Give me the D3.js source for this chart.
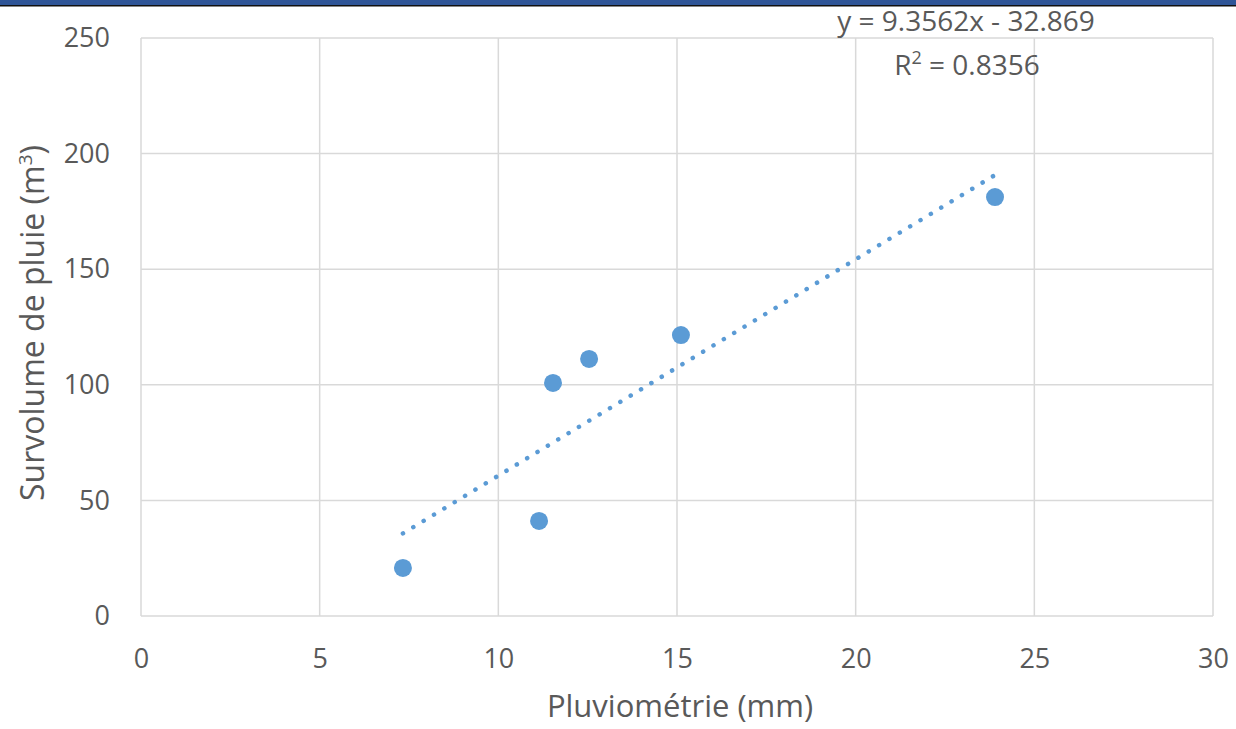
<!DOCTYPE html>
<html>
<head>
<meta charset="utf-8">
<script src="https://cdn.jsdelivr.net/npm/d3@7"></script>
<style>
  html, body { margin: 0; padding: 0; background: #ffffff; }
  svg { display: block; }
</style>
</head>
<body>
<svg id="chart" width="1236" height="729"></svg>
<script>
// Rainfall (mm) vs. rain surplus volume (m³)
const pluviometrie = [7.33, 11.14, 11.53, 12.54, 15.11, 23.9];
const survolume    = [20.8, 41.1, 100.8, 111.2, 121.5, 181.2];

// Linear trend line coefficients
const slope = 9.3562;
const intercept = -32.869;
const r2 = 0.8356;

const xTicks = [0, 5, 10, 15, 20, 25, 30];
const yTicks = [0, 50, 100, 150, 200, 250];

const W = 1236, H = 729;
const margin = { left: 141, right: W - 1213, top: 38, bottom: H - 616 };

const svg = d3.select("#chart");
const font = "'Open Sans', 'Liberation Sans', sans-serif";
const textColor = "#595959";
const gridColor = "#d9d9d9";
const pointColor = "#5b9bd5";

const x = d3.scaleLinear().domain([0, 30]).range([margin.left, W - margin.right]);
const y = d3.scaleLinear().domain([0, 250]).range([H - margin.bottom, margin.top]);

// Header strip
svg.append("rect").attr("x", 0).attr("y", 0).attr("width", W).attr("height", 5).attr("fill", "#2f5597");
svg.append("rect").attr("x", 0).attr("y", 5).attr("width", W).attr("height", 1.5).attr("fill", "#111");

// Gridlines
svg.append("g").selectAll("line.v").data(xTicks).join("line")
  .attr("x1", d => x(d)).attr("x2", d => x(d))
  .attr("y1", y(0)).attr("y2", y(250))
  .attr("stroke", gridColor).attr("stroke-width", 1.5);
svg.append("g").selectAll("line.h").data(yTicks).join("line")
  .attr("x1", x(0)).attr("x2", x(30))
  .attr("y1", d => y(d)).attr("y2", d => y(d))
  .attr("stroke", gridColor).attr("stroke-width", 1.5);

// Axes (labels only)
const xAxis = svg.append("g")
  .attr("transform", `translate(0,${y(0)})`)
  .call(d3.axisBottom(x).tickValues(xTicks).tickSize(0).tickPadding(33).tickFormat(d3.format("d")));
const yAxis = svg.append("g")
  .attr("transform", `translate(${x(0)},0)`)
  .call(d3.axisLeft(y).tickValues(yTicks).tickSize(0).tickPadding(31).tickFormat(d3.format("d")));
[xAxis, yAxis].forEach(g => {
  g.select(".domain").remove();
  g.selectAll("text").attr("fill", textColor).attr("font-family", font).attr("font-size", 27);
});

// Axis titles
svg.append("text")
  .attr("x", 680).attr("y", 717)
  .attr("text-anchor", "middle")
  .attr("fill", textColor).attr("font-family", font).attr("font-size", 31)
  .text("Pluviométrie (mm)");

const yTitle = svg.append("text")
  .attr("transform", `translate(44,323) rotate(-90)`)
  .attr("text-anchor", "middle")
  .attr("fill", textColor).attr("font-family", font).attr("font-size", 32);
yTitle.append("tspan").text("Survolume de pluie (m");
yTitle.append("tspan").text("3").attr("font-size", 19).attr("dy", -12);
yTitle.append("tspan").text(")").attr("dy", 12);

// Dotted trend line across the data range
const xMin = d3.min(pluviometrie), xMax = d3.max(pluviometrie);
svg.append("line")
  .attr("x1", x(xMin)).attr("y1", y(slope * xMin + intercept))
  .attr("x2", x(xMax)).attr("y2", y(slope * xMax + intercept))
  .attr("stroke", pointColor).attr("stroke-width", 4.5)
  .attr("stroke-linecap", "round").attr("stroke-dasharray", "0.1 12");

// Points
svg.append("g").selectAll("circle")
  .data(pluviometrie.map((v, i) => [v, survolume[i]]))
  .join("circle")
  .attr("cx", d => x(d[0])).attr("cy", d => y(d[1]))
  .attr("r", 9).attr("fill", pointColor);

// Equation and R²
svg.append("text")
  .attr("x", 966).attr("y", 31).attr("text-anchor", "middle")
  .attr("fill", textColor).attr("font-family", font).attr("font-size", 28)
  .text(`y = ${slope}x - ${Math.abs(intercept)}`);
const r2Text = svg.append("text")
  .attr("x", 967).attr("y", 75).attr("text-anchor", "middle")
  .attr("fill", textColor).attr("font-family", font).attr("font-size", 28);
r2Text.append("tspan").text("R");
r2Text.append("tspan").text("2").attr("font-size", 18).attr("dy", -11);
r2Text.append("tspan").text(` = ${r2}`).attr("dy", 11);
</script>
</body>
</html>
